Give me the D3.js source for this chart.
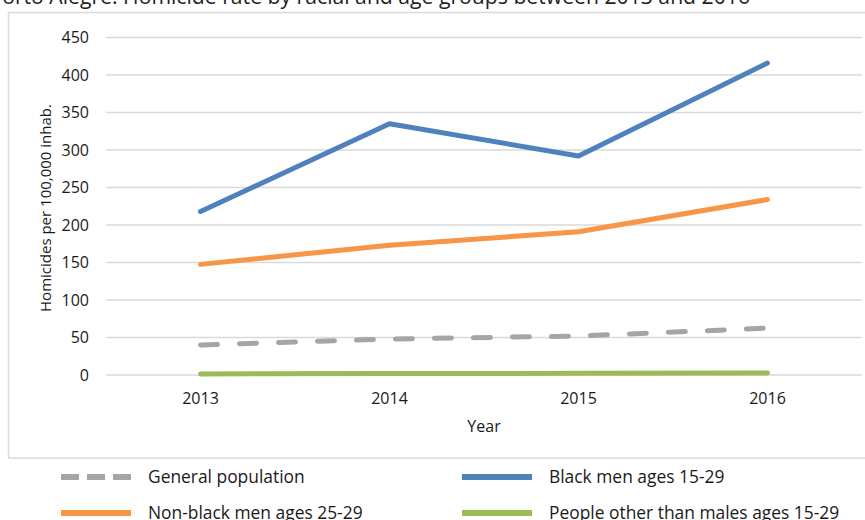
<!DOCTYPE html>
<html><head><meta charset="utf-8">
<script src="https://cdn.jsdelivr.net/npm/d3@7"></script>
<style>body{margin:0;background:#fff;overflow:hidden}svg{display:block}</style>
</head><body>
<svg id="c" width="865" height="520"></svg>
<script>
const title = "Porto Alegre: Homicide rate by racial and age groups between 2013 and 2016";
const years = ["2013", "2014", "2015", "2016"];
const yTicks = [0, 50, 100, 150, 200, 250, 300, 350, 400, 450];
const generalPopulation = [40, 48, 52, 62.5];
const blackMen1529 = [218, 335, 292, 416];
const nonBlackMen2529 = [147.5, 173, 191, 234];
const otherPeople = [1.5, 2, 2.2, 2.8];
const seriesNames = ["General population", "Black men ages 15-29", "Non-black men ages 25-29", "People other than males ages 15-29"];
const seriesColors = ["#A5A5A5", "#4F81BD", "#F79646", "#9BBB59"];

const series = [
  {name: seriesNames[0], values: generalPopulation, color: seriesColors[0], dash: true},
  {name: seriesNames[1], values: blackMen1529, color: seriesColors[1]},
  {name: seriesNames[2], values: nonBlackMen2529, color: seriesColors[2]},
  {name: seriesNames[3], values: otherPeople, color: seriesColors[3]}
];

const svg = d3.select("#c");
const font = "'Open Sans', sans-serif";
const ink = "#1a1a1a";

// frame
svg.append("rect").attr("x", 8.5).attr("y", 12.5).attr("width", 880).attr("height", 445.5)
  .attr("fill", "#fff").attr("stroke", "#D9D9D9").attr("stroke-width", 1.5);

// title
const t = svg.append("text").text(title).attr("font-family", font)
  .attr("font-size", 18).attr("fill", "#222").attr("text-anchor", "end").attr("x", 750).attr("y", 4);
const w = t.node().getComputedTextLength();
t.attr("font-size", 18 * 761 / w);

const x = d3.scaleBand().domain(years).range([106, 862]);
const y = d3.scaleLinear().domain([0, 450]).range([375, 37.5]);

// gridlines
svg.append("g").selectAll("line").data(yTicks).join("line")
  .attr("x1", 106).attr("x2", 862).attr("y1", d => y(d)).attr("y2", d => y(d))
  .attr("stroke", "#D9D9D9").attr("stroke-width", 1.5);

// y axis
const ya = svg.append("g").attr("transform", "translate(89,0)")
  .call(d3.axisLeft(y).tickValues(yTicks).tickSize(0).tickPadding(0));
ya.select(".domain").remove();
ya.selectAll("text").attr("font-family", font).attr("font-size", 16).attr("fill", ink);

// x axis
const xa = svg.append("g").attr("transform", "translate(0,393)")
  .call(d3.axisBottom(x).tickSize(0).tickPadding(0));
xa.select(".domain").remove();
xa.selectAll("text").attr("font-family", font).attr("font-size", 16).attr("fill", ink);

svg.append("text").text("Year").attr("x", 484).attr("y", 432).attr("text-anchor", "middle")
  .attr("font-family", font).attr("font-size", 16).attr("fill", ink);
svg.append("text").text("Homicides per 100,000 inhab.")
  .attr("transform", "translate(51,208) rotate(-90)").attr("text-anchor", "middle")
  .attr("font-family", font).attr("font-size", 15).attr("fill", ink);

// lines
const line = d3.line().x((d, i) => x(years[i]) + x.bandwidth() / 2).y(d => y(d));
svg.append("g").selectAll("path").data(series).join("path")
  .attr("d", d => line(d.values)).attr("fill", "none")
  .attr("stroke", d => d.color).attr("stroke-width", 5)
  .attr("stroke-linecap", "round").attr("stroke-linejoin", "round")
  .attr("stroke-dasharray", d => d.dash ? "17,22" : null);

// legend
const legPos = [[61, 477], [462, 477], [61, 513], [462, 513]];
const lg = svg.append("g").selectAll("g").data(series).join("g")
  .attr("transform", (d, i) => `translate(${legPos[i][0]},${legPos[i][1]})`);
lg.append("line").attr("x1", 0).attr("x2", 70).attr("y1", 0).attr("y2", 0)
  .attr("stroke", d => d.color).attr("stroke-width", 6)
  .attr("stroke-dasharray", d => d.dash ? "18,8" : null);
lg.append("text").text(d => d.name).attr("x", 87).attr("y", 6)
  .attr("font-family", font).attr("font-size", 17.4).attr("fill", ink);
</script>
</body></html>
